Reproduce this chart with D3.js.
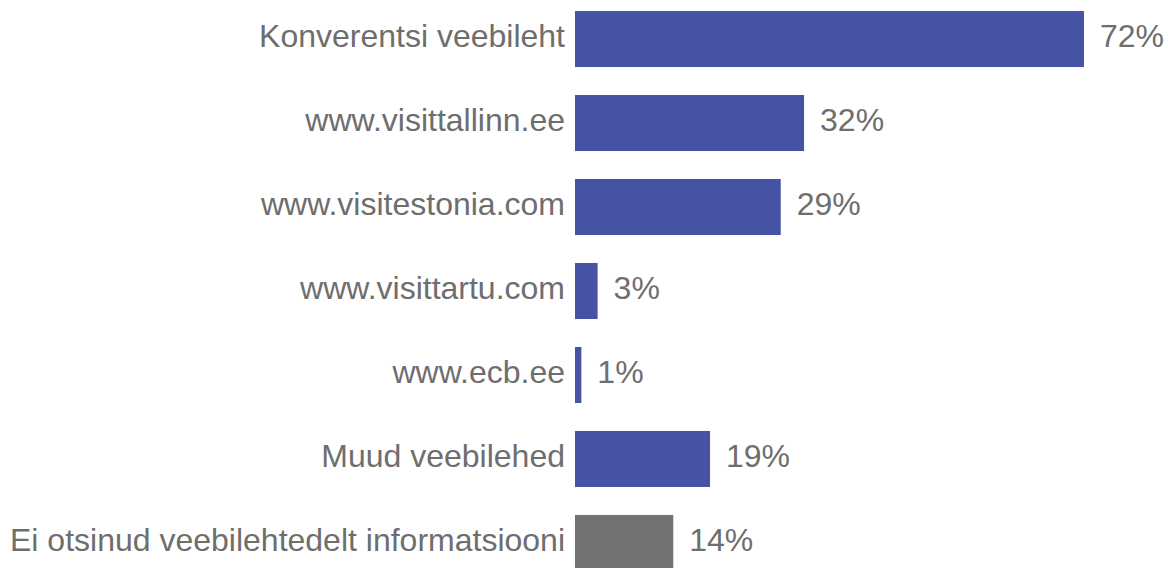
<!DOCTYPE html>
<html>
<head>
<meta charset="utf-8">
<script src="https://cdn.jsdelivr.net/npm/d3@7"></script>
<style>
  body { margin: 0; background: #fff; }
  text { font-family: "Liberation Sans", Arial, sans-serif; }
</style>
</head>
<body>
<svg id="chart" width="1168" height="568"></svg>
<script>
var categories = [
  'Konverentsi veebileht',
  'www.visittallinn.ee',
  'www.visitestonia.com',
  'www.visittartu.com',
  'www.ecb.ee',
  'Muud veebilehed',
  'Ei otsinud veebilehtedelt informatsiooni'
];
var values = [72, 32.4, 29.1, 3.2, 0.9, 19.1, 13.9];
var valueLabels = ['72%', '32%', '29%', '3%', '1%', '19%', '14%'];
var barColors = ['#4653a5', '#4653a5', '#4653a5', '#4653a5', '#4653a5', '#4653a5', '#737373'];

var svg = d3.select('#chart');
var left = 575;

var x = d3.scaleLinear()
  .domain([0, 72])
  .range([left, 1084]);

var y = d3.scaleBand()
  .domain(categories)
  .range([-3, 585])
  .paddingInner(0.333)
  .paddingOuter(0.167);

var rows = svg.selectAll('g.row')
  .data(categories)
  .enter().append('g')
  .attr('class', 'row');

rows.append('rect')
  .attr('x', x(0))
  .attr('y', function (d) { return y(d); })
  .attr('width', function (d, i) { return x(values[i]) - x(0); })
  .attr('height', y.bandwidth())
  .style('fill', function (d, i) { return barColors[i]; });

rows.append('text')
  .attr('x', left - 10)
  .attr('y', function (d) { return y(d) + y.bandwidth() / 2; })
  .attr('dy', '0.26em')
  .attr('text-anchor', 'end')
  .style('font-size', '32px')
  .style('fill', '#6e6e6e')
  .text(function (d) { return d; });

rows.append('text')
  .attr('x', function (d, i) { return x(values[i]) + 16; })
  .attr('y', function (d) { return y(d) + y.bandwidth() / 2; })
  .attr('dy', '0.26em')
  .style('font-size', '32px')
  .style('fill', '#6e6e6e')
  .text(function (d, i) { return valueLabels[i]; });
</script>
</body>
</html>
